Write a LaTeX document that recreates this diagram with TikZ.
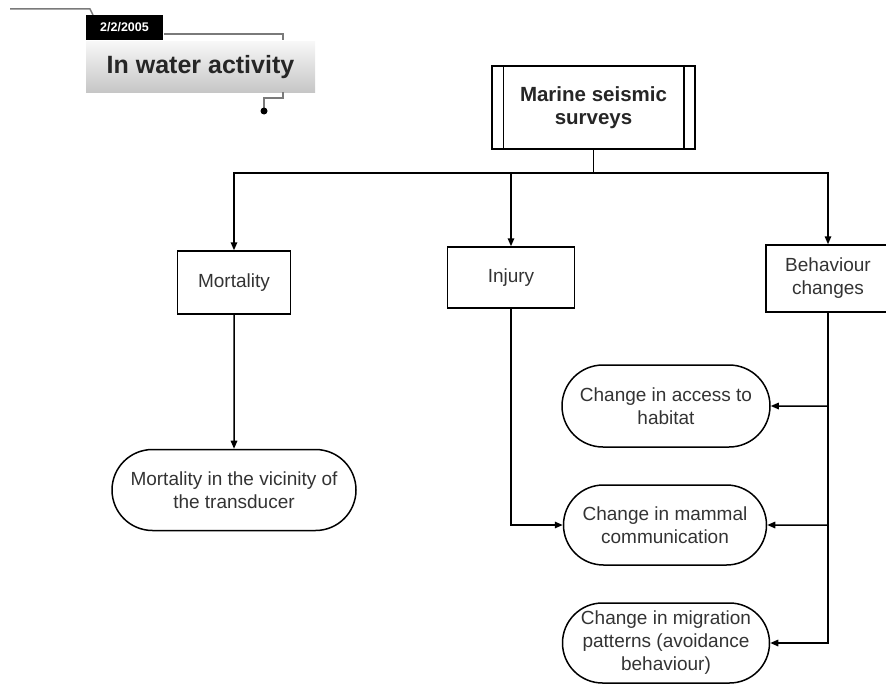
\documentclass[tikz,border=0pt]{standalone}
\usepackage{fontspec}
\setmainfont{Liberation Sans}
\usetikzlibrary{arrows.meta,shapes.misc}
\definecolor{txtgray}{HTML}{333333}
\definecolor{hdrgray}{HTML}{7A7A7A}

\begin{document}
\begin{tikzpicture}[x=1pt,y=-1pt,line width=1.5pt,
  >={Triangle[length=8pt,width=6.5pt]},
  box/.style={draw,rectangle,inner sep=0pt,align=center,text=txtgray,font=\fontsize{19}{23}\selectfont},
  term/.style={draw,rounded rectangle,inner sep=0pt,align=center,text=txtgray,font=\fontsize{19}{23}\selectfont}]
\useasboundingbox (0,0) rectangle (886,685);
% Header:
\draw[hdrgray] (10,9) -- (90,9) -- (93,15);
\shade[top color=gray!6,bottom color=gray!45] (86,42) rectangle (315,92);
\node (title) [font=\fontsize{25}{30}\selectfont\bfseries,text=black!85] at (200.5,67) {In water activity};
\node (date) [fill=black,text=white,minimum width=77pt,minimum height=25pt,inner sep=0pt,font=\fontsize{12.5}{14}\selectfont\bfseries] at (124.5,27.5) {2/2/2005};
\draw[hdrgray] (date.east |- 0,34) -- (283,34) -- (283,40);
\draw[hdrgray] (283,92) -- (283,98) -- (264,98) -- (264,108);
\fill (264,111) circle (3.5);
% Top node:
\node (mss) [box,minimum width=203pt,minimum height=83pt,font=\fontsize{20.5}{23}\selectfont\bfseries,text=black!85] at (593.5,107.5) {Marine seismic\\surveys};
\draw ([xshift=12pt]mss.north west) -- ([xshift=12pt]mss.south west);
\draw ([xshift=-12pt]mss.north east) -- ([xshift=-12pt]mss.south east);
% Effects:
\node (mort) [box,minimum width=113pt,minimum height=63pt] at (234,282.5) {Mortality};
\node (inj) [box,minimum width=127pt,minimum height=61pt] at (511,277.5) {Injury};
\node (beh) [box,minimum width=124pt,minimum height=67pt] at (828,278.5) {Behaviour\\changes};
% Consequences:
\node (vic) [term,minimum width=244pt,minimum height=81pt] at (234,490) {Mortality in the vicinity of\\the transducer};
\node (hab) [term,minimum width=208pt,minimum height=82pt] at (666,406) {Change in access to\\habitat};
\node (mam) [term,minimum width=203pt,minimum height=80pt] at (665,525) {Change in mammal\\communication};
\node (mig) [term,minimum width=207pt,minimum height=80pt] at (666,643) {Change in migration\\patterns (avoidance\\behaviour)};
% Connectors:
\coordinate (bus) at (593.5,173);
\draw (mss) -- (bus);
\draw[->] (bus) -| (mort);
\draw[->] (bus) -| (inj);
\draw[->] (bus) -| (beh);
\draw[->] (mort) -- (vic);
\draw[->] (inj) |- (mam);
\draw[->] (beh) |- (mig);
\draw[->] (beh |- hab) -- (hab);
\draw[->] (beh |- mam) -- (mam);
\end{tikzpicture}
\end{document}
